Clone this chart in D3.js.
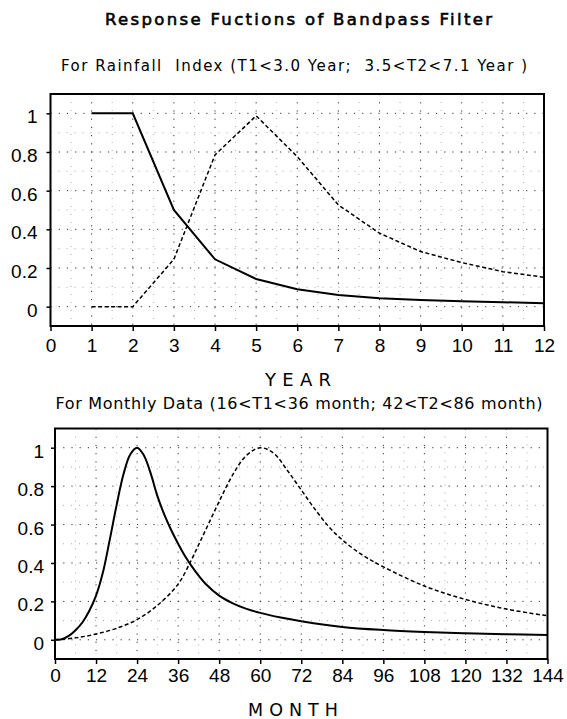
<!DOCTYPE html>
<html>
<head>
<meta charset="utf-8">
<script src="https://cdn.jsdelivr.net/npm/d3@7"></script>
<style>
    body { margin: 0; background: #fff; }
    svg text { font-family: "Liberation Sans", Arial, sans-serif; fill: #000; }
    svg text.head { font-family: "DejaVu Sans", sans-serif; }
</style>
</head>
<body>
<div id="chart"></div>
<script>
// ---- data ----
const yearTicks = [0, 1, 2, 3, 4, 5, 6, 7, 8, 9, 10, 11, 12];
const monthTicks = [0, 12, 24, 36, 48, 60, 72, 84, 96, 108, 120, 132, 144];
const responseTicks = [0, 0.2, 0.4, 0.6, 0.8, 1];

// rainfall index, yearly (solid = T1 band, dashed = T2 band)
const years = [1, 2, 3, 4, 5, 6, 7, 8, 9, 10, 11, 12];
const yearT1 = [1, 1, 0.5, 0.245, 0.143, 0.09, 0.06, 0.044, 0.035, 0.028, 0.023, 0.018];
const yearT2 = [0, 0, 0.245, 0.785, 0.987, 0.776, 0.526, 0.38, 0.285, 0.228, 0.181, 0.152];

// monthly data
const monthsT1 = [0, 2, 4, 6, 8, 10, 12, 14, 16, 18, 20, 22, 24, 26, 28, 30, 32, 34, 36, 38, 40, 42, 44, 48, 52, 56, 60, 66, 72, 84, 96, 108, 120, 132, 144];
const monthT1 = [0, 0.003, 0.02, 0.05, 0.09, 0.15, 0.23, 0.35, 0.52, 0.7, 0.86, 0.965, 1, 0.96, 0.865, 0.745, 0.65, 0.57, 0.5, 0.436, 0.382, 0.334, 0.292, 0.23, 0.19, 0.161, 0.14, 0.116, 0.097, 0.067, 0.051, 0.041, 0.034, 0.029, 0.025];
const monthsT2 = [0, 6, 12, 18, 24, 30, 36, 40, 42, 44, 48, 52, 56, 60, 64, 68, 72, 76, 80, 84, 90, 96, 108, 120, 132, 144];
const monthT2 = [0, 0.01, 0.03, 0.06, 0.105, 0.18, 0.29, 0.42, 0.495, 0.57, 0.72, 0.86, 0.96, 1, 0.97, 0.88, 0.78, 0.68, 0.59, 0.52, 0.44, 0.38, 0.28, 0.21, 0.16, 0.125];

const mainTitle = "Response Fuctions of Bandpass Filter";
const yearTitle = "For Rainfall  Index (T1<3.0 Year;  3.5<T2<7.1 Year )";
const monthTitle = "For Monthly Data (16<T1<36 month; 42<T2<86 month)";

const svg = d3.select("#chart").append("svg")
    .attr("width", 567)
    .attr("height", 719);

function label(txt, x, y, size, len, heavy) {
    svg.append("text")
        .attr("class", "head")
        .attr("x", x)
        .attr("y", y)
        .attr("text-anchor", "middle")
        .attr("font-size", size)
        .attr("textLength", len)
        .attr("lengthAdjust", "spacing")
        .attr("stroke", heavy ? "#000" : "none")
        .attr("stroke-width", heavy ? 0.6 : 0)
        .style("white-space", "pre")
        .text(txt);
}

class ResponsePanel {
    constructor(cfg) {
        this.cfg = cfg;
        this.initVis();
    }

    initVis() {
        let vis = this;
        let c = vis.cfg;

        vis.x = d3.scaleLinear().domain(c.xDomain).range([c.left, c.right]);
        vis.y = d3.scaleLinear().domain([-0.1, 1.1]).range([c.bottom, c.top]);
        vis.g = svg.append("g");

        // dotted grid, minor first then major
        let minorX = d3.range(c.xDomain[0] + c.minorStep, c.xDomain[1], c.minorStep * 2);
        let majorX = c.ticks.filter(d => d > c.xDomain[0] && d < c.xDomain[1]);
        let minorY = [0.1, 0.3, 0.5, 0.7, 0.9];

        vis.g.selectAll(".vminor").data(minorX).enter().append("line")
            .attr("x1", d => vis.x(d)).attr("x2", d => vis.x(d))
            .attr("y1", c.top).attr("y2", c.bottom)
            .attr("stroke", "#aaa").attr("stroke-dasharray", "1,7");
        vis.g.selectAll(".hminor").data(minorY).enter().append("line")
            .attr("x1", c.left).attr("x2", c.right)
            .attr("y1", d => vis.y(d)).attr("y2", d => vis.y(d))
            .attr("stroke", "#aaa").attr("stroke-dasharray", "1,7");
        vis.g.selectAll(".vmajor").data(majorX).enter().append("line")
            .attr("x1", d => vis.x(d)).attr("x2", d => vis.x(d))
            .attr("y1", c.top).attr("y2", c.bottom)
            .attr("stroke", "#333").attr("stroke-dasharray", "1.2,7");
        vis.g.selectAll(".hmajor").data(responseTicks).enter().append("line")
            .attr("x1", c.left).attr("x2", c.right)
            .attr("y1", d => vis.y(d)).attr("y2", d => vis.y(d))
            .attr("stroke", "#333").attr("stroke-dasharray", "1.2,7");

        // curves
        let line = d3.line()
            .x(d => vis.x(d[0]))
            .y(d => vis.y(d[1]))
            .curve(c.curve);

        vis.g.append("path")
            .datum(d3.zip(c.xs2, c.ys2))
            .attr("d", line)
            .attr("fill", "none")
            .attr("stroke", "#000")
            .attr("stroke-width", 1.5)
            .attr("stroke-dasharray", "4,2.5");

        vis.g.append("path")
            .datum(d3.zip(c.xs1, c.ys1))
            .attr("d", line)
            .attr("fill", "none")
            .attr("stroke", "#000")
            .attr("stroke-width", 2);

        // frame
        vis.g.append("rect")
            .attr("x", c.left)
            .attr("y", c.top)
            .attr("width", c.right - c.left)
            .attr("height", c.bottom - c.top)
            .attr("fill", "none")
            .attr("stroke", "#000")
            .attr("stroke-width", 2);

        // axes
        let xAxis = d3.axisBottom(vis.x)
            .tickValues(c.ticks)
            .tickSize(5)
            .tickPadding(c.xPad)
            .tickFormat(d3.format("d"));
        let yAxis = d3.axisLeft(vis.y)
            .tickValues(responseTicks)
            .tickSize(4)
            .tickPadding(c.yPad)
            .tickFormat(d3.format("~g"));

        vis.g.append("g")
            .attr("transform", `translate(0,${c.bottom})`)
            .call(xAxis)
            .call(a => a.select(".domain").remove());
        vis.g.append("g")
            .attr("transform", `translate(${c.left},0)`)
            .call(yAxis)
            .call(a => a.select(".domain").remove())
            .selectAll("text").attr("dy", "0.5em");

        vis.g.selectAll(".tick line").attr("stroke-width", 1.5);
        vis.g.selectAll(".tick text")
            .attr("font-size", 19)
            .attr("font-family", null);
    }
}

label(mainTitle, 298.5, 25, 16.5, 387, true);
label(yearTitle, 294, 70.5, 15, 466);

new ResponsePanel({
    xDomain: [0, 12], left: 50.5, right: 544, top: 94, bottom: 326,
    ticks: yearTicks, minorStep: 0.5,
    xs1: years, ys1: yearT1, xs2: years, ys2: yearT2,
    curve: d3.curveLinear, xPad: 8, yPad: 9
});

label("YEAR", 298, 386, 18, 66);
label(monthTitle, 299, 409, 16, 487);

new ResponsePanel({
    xDomain: [0, 144], left: 55, right: 547.5, top: 428.5, bottom: 659,
    ticks: monthTicks, minorStep: 6,
    xs1: monthsT1, ys1: monthT1, xs2: monthsT2, ys2: monthT2,
    curve: d3.curveCatmullRom.alpha(0.5), xPad: 4.5, yPad: 7
});

label("MONTH", 293, 716, 17.5, 90);
</script>
</body>
</html>
